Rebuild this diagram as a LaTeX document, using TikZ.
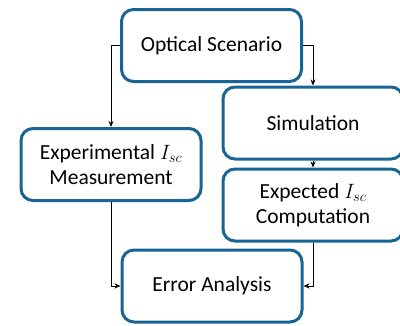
\documentclass[tikz,border=0pt]{standalone}
\usepackage{fontspec}
\setmainfont{Carlito}
\usetikzlibrary{arrows.meta}
\definecolor{boxblue}{RGB}{24,100,148}
\tikzset{
  stepbox/.style={draw=boxblue, line width=3pt, rounded corners=12pt, fill=white,
    minimum width=180pt, minimum height=72pt, align=center,
    font=\fontsize{21.5}{25}\selectfont, inner sep=0pt},
  flow/.style={draw=black, line width=0.8pt, -{Stealth[length=6pt,width=5pt]}}
}
\begin{document}
\begin{tikzpicture}[x=1pt,y=-1pt]
\useasboundingbox (0,0) rectangle (400,325);
\clip (0,0) rectangle (400,325);
\node[stepbox] (opt) at (211.5,45.5) {Optical Scenario};
\node[stepbox] (sim) at (313,123) {Simulation};
\node[stepbox] (expc) at (313,205) {Expected $I_{sc}$\\Computation};
\node[stepbox] (exm) at (111,164.5) {Experimental $I_{sc}$\\Measurement};
\node[stepbox] (err) at (212,286) {Error Analysis};
\draw[flow] (opt.west) -| (exm.north);
\draw[flow] (opt.east) -| (sim.north);
\draw[flow] (sim.south) -- (expc.north);
\draw[flow] (exm.south) |- (err.west);
\draw[flow] (expc.south) |- (err.east);
\end{tikzpicture}
\end{document}
